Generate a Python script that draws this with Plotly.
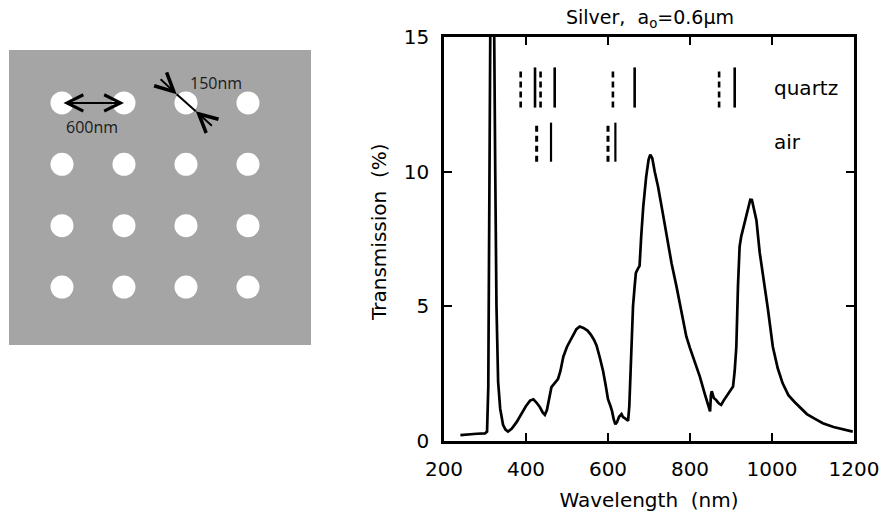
import plotly.graph_objects as go

# ---------------- data ----------------
wavelength = [240, 260, 280, 300, 305, 308, 311, 313, 318, 322, 325, 328, 332, 337, 344, 350, 356,
              365, 377, 390, 400, 410, 418, 426, 434, 441, 446, 451, 456, 462, 470, 478, 484, 491,
              500, 507, 515, 523, 531, 540, 550, 558, 566, 572, 580, 588, 594, 600, 606, 610, 614,
              618, 622, 627, 633, 637, 641, 645, 649, 652, 655, 658, 661, 665, 668, 673, 677, 681,
              686, 693, 699, 703, 708, 714, 722, 732, 742, 755, 767, 780, 791, 800, 812, 824, 836,
              845, 849, 851, 853, 858, 864, 870, 876, 882, 889, 897, 905, 909, 913, 917, 921, 925,
              929, 935, 941, 947, 951, 956, 962, 970, 978, 990, 1002, 1014, 1026, 1040, 1055, 1067,
              1085, 1105, 1124, 1150, 1175, 1197]
transmission = [0.22, 0.25, 0.27, 0.28, 0.35, 2.0, 8.0, 15.5, 17.0, 16.0, 10.0, 5.0, 2.2, 1.2, 0.6,
                0.42, 0.35, 0.45, 0.7, 1.05, 1.3, 1.5, 1.55, 1.42, 1.25, 1.05, 0.97, 1.15, 1.55,
                2.0, 2.15, 2.3, 2.6, 3.13, 3.5, 3.7, 3.95, 4.15, 4.25, 4.2, 4.1, 3.95, 3.75, 3.55,
                3.1, 2.6, 2.1, 1.55, 1.3, 1.1, 0.8, 0.62, 0.7, 0.9, 1.0, 0.88, 0.85, 0.8, 0.75, 1.3,
                2.8, 4.2, 5.0, 5.74, 6.24, 6.4, 6.5, 7.6, 8.7, 9.8, 10.45, 10.63, 10.5, 10.0, 9.45,
                8.6, 7.72, 6.6, 5.74, 4.7, 3.88, 3.45, 2.95, 2.39, 1.75, 1.3, 1.1, 1.7, 1.85, 1.6,
                1.52, 1.4, 1.34, 1.5, 1.65, 1.85, 2.02, 2.6, 3.5, 5.74, 7.22, 7.6, 7.84, 8.2, 8.6,
                8.96, 8.95, 8.6, 8.2, 7.0, 6.23, 4.9, 3.5, 2.7, 2.14, 1.7, 1.45, 1.27, 1.0, 0.82,
                0.66, 0.52, 0.42, 0.35]

# calculated resonance positions (nm)
quartz_solid = [422, 470, 665, 909]
quartz_dashed = [387, 435.5, 612, 871]
air_solid = [461, 618]
air_dashed = [426, 600]
quartz_band = [12.38, 13.87]
air_band = [10.37, 11.82]

x_ticks = [200, 400, 600, 800, 1000, 1200]
y_ticks = [0, 5, 10, 15]

# schematic of hole array (nm)
lattice = [0, 600, 1200, 1800]
period_nm = 600
diameter_nm = 150

# ---------------- figure ----------------
W, H = 885, 513
px_x = lambda p: p / W
px_y = lambda p: 1 - p / H

fig = go.Figure()


def segs(xs, band):
    X, Y = [], []
    for v in xs:
        X += [v, v, None]
        Y += [band[0], band[1], None]
    return X, Y


fig.add_trace(go.Scatter(x=wavelength, y=transmission, mode="lines",
                         line=dict(color="black", width=2.7), showlegend=False,
                         hoverinfo="x+y"))
for xs, band, dash, w in [(quartz_solid, quartz_band, "solid", 2.6),
                          (quartz_dashed, quartz_band, "6px,4px", 2.6),
                          (air_solid, air_band, "solid", 2.2),
                          (air_dashed, air_band, "6px,4px", 3.0)]:
    X, Y = segs(xs, band)
    fig.add_trace(go.Scatter(x=X, y=Y, mode="lines", line=dict(color="black", width=w, dash=dash),
                             showlegend=False, hoverinfo="skip"))

# schematic holes
hx = [c for r in lattice for c in lattice]
hy = [r for r in lattice for c in lattice]
fig.add_trace(go.Scatter(x=hx, y=hy, mode="markers", xaxis="x2", yaxis="y2",
                         marker=dict(size=23, color="white", line=dict(width=0)),
                         showlegend=False, hoverinfo="skip"))
# diameter line across third hole
up_tip = (lattice[2] - 90, -85)
lo_tip = (lattice[2] + 95, 80)
fig.add_trace(go.Scatter(x=[up_tip[0], lo_tip[0]], y=[up_tip[1], lo_tip[1]], mode="lines",
                         xaxis="x2", yaxis="y2", line=dict(color="black", width=2),
                         showlegend=False, hoverinfo="skip"))

ax_font = dict(family="DejaVu Sans, Arial", size=20, color="black")
fig.update_layout(
    width=W, height=H, margin=dict(l=0, r=0, t=0, b=0, autoexpand=False),
    paper_bgcolor="white", plot_bgcolor="white",
    xaxis=dict(domain=[px_x(444), px_x(854)], range=[200, 1200], tickvals=x_ticks,
               ticks="inside", ticklen=8, tickwidth=2, tickcolor="black",
               showline=True, linecolor="black", linewidth=2.5, mirror="ticks",
               showgrid=False, zeroline=False, tickfont=ax_font, ticklabelstandoff=8,
               title=dict(text="Wavelength  (nm)", font=ax_font, standoff=14)),
    yaxis=dict(domain=[px_y(441), px_y(37)], range=[0, 15], tickvals=y_ticks,
               ticks="inside", ticklen=8, tickwidth=2, tickcolor="black",
               showline=True, linecolor="black", linewidth=2.5, mirror="ticks",
               showgrid=False, zeroline=False, tickfont=ax_font, ticklabelstandoff=8),
    xaxis2=dict(domain=[px_x(9), px_x(311)], range=[-513, 2410], visible=False,
                anchor="y2"),
    yaxis2=dict(domain=[px_y(345), px_y(50)], range=[2367, -518], visible=False,
                anchor="x2"),
)

fig.add_shape(type="rect", xref="x2 domain", yref="y2 domain", x0=0, x1=1, y0=0, y1=1,
              fillcolor="#a5a5a5", line=dict(width=0), layer="below")

annos = [
    dict(text="Silver,  a<sub>o</sub>=0.6μm", xref="paper", yref="paper",
         x=px_x(650), y=px_y(18), xanchor="center", yanchor="middle", showarrow=False,
         font=dict(family="DejaVu Sans, Arial", size=19, color="black")),
    dict(text="Transmission  (%)", xref="paper", yref="paper", textangle=-90,
         x=px_x(379), y=px_y(232), xanchor="center", yanchor="middle", showarrow=False,
         font=ax_font),
    dict(text="quartz", xref="x", yref="y", x=1001, y=13.12, xanchor="left",
         yanchor="middle", showarrow=False, font=ax_font),
    dict(text="air", xref="x", yref="y", x=1001, y=11.1, xanchor="left",
         yanchor="middle", showarrow=False, font=ax_font),
    # 600 nm double arrow
    dict(text="", xref="x2", yref="y2", axref="x2", ayref="y2",
         x=lattice[1], y=lattice[0], ax=lattice[0], ay=lattice[0],
         showarrow=True, arrowside="end+start", arrowhead=5, startarrowhead=5,
         arrowsize=1.6, startarrowsize=1.6, arrowwidth=2, arrowcolor="black"),
    dict(text=f"{period_nm}nm", xref="x2", yref="y2", x=290, y=232, showarrow=False,
         xanchor="center", yanchor="middle",
         font=dict(family="Open Sans, Arial", size=16, color="#1a1a1a")),
    # 150 nm diameter arrows
    dict(text="", xref="x2", yref="y2", axref="x2", ayref="y2",
         x=up_tip[0], y=up_tip[1], ax=lattice[2] - 260, ay=-245,
         showarrow=True, arrowhead=5, arrowsize=1.8, arrowwidth=2, arrowcolor="black"),
    dict(text="", xref="x2", yref="y2", axref="x2", ayref="y2",
         x=lo_tip[0], y=lo_tip[1], ax=lattice[2] + 265, ay=235,
         showarrow=True, arrowhead=5, arrowsize=1.8, arrowwidth=2, arrowcolor="black"),
    dict(text=f"{diameter_nm}nm", xref="x2", yref="y2", x=1491, y=-194, showarrow=False,
         xanchor="center", yanchor="middle",
         font=dict(family="Open Sans, Arial", size=16, color="#1a1a1a")),
]
fig.update_layout(annotations=annos)

fig.write_html("out.html")
